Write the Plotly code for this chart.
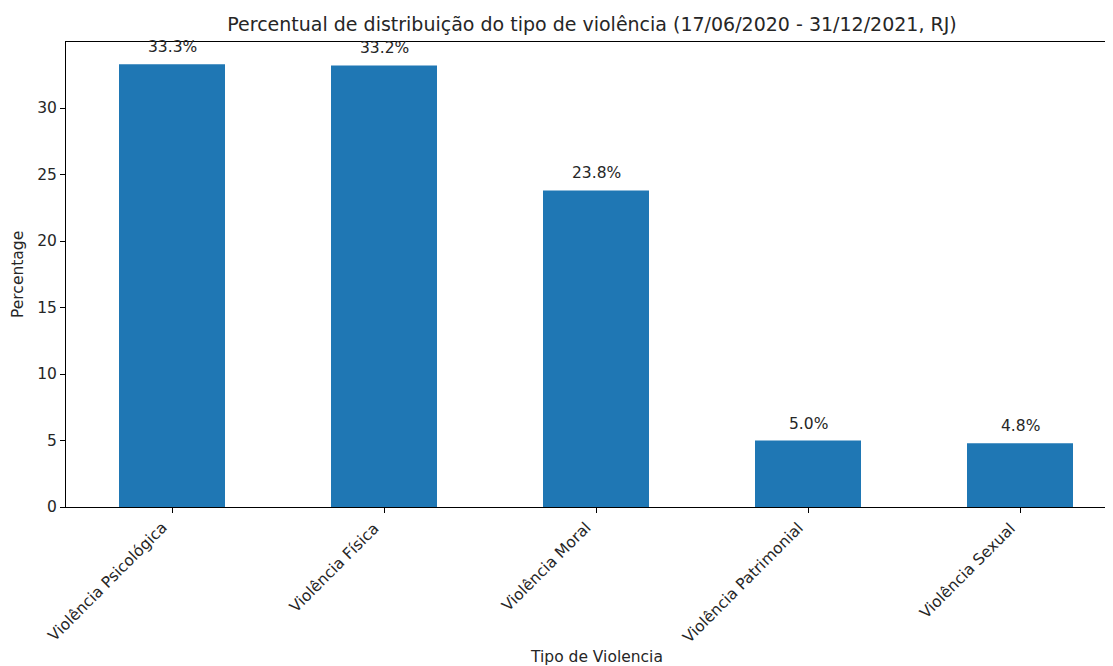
import plotly.graph_objects as go

categories = ["Violência Psicológica", "Violência Física", "Violência Moral",
              "Violência Patrimonial", "Violência Sexual"]
percentages = [33.3, 33.2, 23.8, 5.0, 4.8]
labels = ["33.3%", "33.2%", "23.8%", "5.0%", "4.8%"]
y_ticks = [0, 5, 10, 15, 20, 25, 30]

# page body has an 8px margin; figure is sized/offset to compensate
OFF = 8
W, H = 1113 - OFF, 666 - OFF
L, T, B = 66 - OFF, 42 - OFF, 159
PW = W - L
PH = H - T - B

fig = go.Figure()
fig.add_trace(go.Bar(x=categories, y=percentages, width=0.5,
                     marker=dict(color="#1f77b4", line=dict(width=0))))

for c, v, t in zip(categories, percentages, labels):
    fig.add_annotation(x=c, y=v, text=t, showarrow=False, yanchor="bottom",
                       yshift=6, font=dict(size=15.5, color="#262626"))

# rotated category labels (matplotlib style: right end aligned under tick)
for c in categories:
    fig.add_annotation(x=c, y=0, text=c, showarrow=False, textangle=-45,
                       xanchor="right", yanchor="top", xshift=0, yshift=-11,
                       borderpad=0, font=dict(size=15.5, color="#262626"))

fig.add_annotation(text="Tipo de Violencia", xref="paper", yref="paper",
                   x=(596 - OFF - L) / PW, y=-((657 - OFF) - (H - B)) / PH,
                   xanchor="center", yanchor="middle",
                   showarrow=False, font=dict(size=15.5, color="#262626"))

fig.add_annotation(text="Percentage", xref="paper", yref="paper",
                   x=-(L - (18 - OFF)) / PW, y=((H - B) - (275 - OFF)) / PH,
                   xanchor="center", yanchor="middle", textangle=-90,
                   showarrow=False, font=dict(size=15.5, color="#262626"))

fig.update_layout(
    width=W, height=H,
    margin=dict(l=L, r=0, t=T, b=B, autoexpand=False),
    plot_bgcolor="white", paper_bgcolor="white",
    font=dict(family="DejaVu Sans", size=15.5, color="#262626"),
    showlegend=False,
    title=dict(text="Percentual de distribuição do tipo de violência (17/06/2020 - 31/12/2021, RJ)",
               x=(592 - OFF) / W, xanchor="center", y=1 - (24 - OFF) / H, yanchor="middle",
               font=dict(size=19, color="#262626")),
)
fig.update_xaxes(range=[-0.5, PW / 212 - 0.5], showticklabels=False, automargin=False,
                 showline=True, linecolor="black", linewidth=1, mirror=True,
                 ticks="outside", ticklen=5, tickcolor="black", showgrid=False)
fig.update_yaxes(range=[0, 34.965], tickvals=y_ticks, showline=True, automargin=False,
                 linecolor="black", linewidth=1, ticks="outside", ticklen=5,
                 tickcolor="black", showgrid=False, zeroline=False,
                 tickfont=dict(size=15.5))

fig.write_html("out.html")
